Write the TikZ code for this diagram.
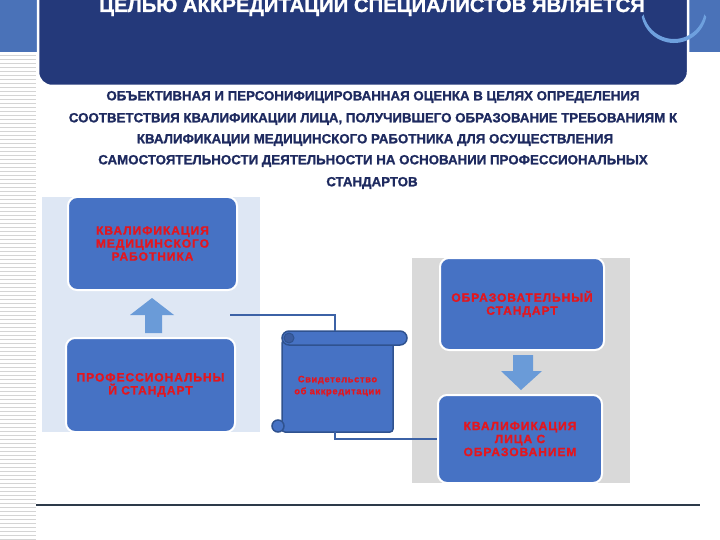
\documentclass[tikz,border=0pt]{standalone}
\usepackage{fontspec}
\usetikzlibrary{calc}
\setmainfont{Liberation Sans}
\newfontfamily\heavyfont{Liberation Sans}[BoldFeatures={FakeBold=1.2}]
\newfontfamily\boxfont{Liberation Sans}[LetterSpace=8, BoldFeatures={FakeBold=1.2}]
\newfontfamily\scrfont{Liberation Sans}[LetterSpace=7, BoldFeatures={FakeBold=0.8}]
\definecolor{hdrblue}{RGB}{74,114,184}
\definecolor{navy}{RGB}{36,57,122}
\definecolor{boxblue}{RGB}{70,114,196}
\definecolor{arrowblue}{RGB}{106,155,216}
\definecolor{arcblue}{RGB}{110,160,222}
\definecolor{panelblue}{RGB}{222,231,244}
\definecolor{panelgray}{RGB}{217,217,217}
\definecolor{redtxt}{RGB}{228,22,30}
\definecolor{linkblue}{RGB}{60,98,166}
\definecolor{scrollline}{RGB}{47,82,143}
\definecolor{scrolldark}{RGB}{58,92,160}
\definecolor{stripe}{RGB}{212,212,212}
\definecolor{bodytxt}{RGB}{30,42,95}
\definecolor{rulecol}{RGB}{45,58,74}
\begin{document}
\begin{tikzpicture}[x=1pt,y=-1pt,
  bluebox/.style={draw=white, line width=2, fill=boxblue, rounded corners=9, inner sep=0,
     text=redtxt, align=center, font=\boxfont\bfseries\fontsize{12}{13}\selectfont},
  bodyline/.style={text=bodytxt, font=\heavyfont\bfseries\fontsize{13.3}{14}\selectfont, inner sep=0},
  link/.style={draw=linkblue, line width=2.2},
  scrollshape/.style={fill=boxblue, draw=scrollline, line width=1.5},
  bigarrow/.style={fill=arrowblue}]
\useasboundingbox (0,0) rectangle (720,540);
\clip (0,0) rectangle (720,540);
% header
\fill[hdrblue] (0,0) rectangle (720,52);
\foreach \i in {0,...,121} \draw[stripe, line width=0.8] (0,55+4*\i) -- (36,55+4*\i);
\draw[white, line width=2.5, fill=navy, rounded corners=14] (38,-20) rectangle (688,86);
\fill[arcblue] (674,10) ++(12:33) arc[start angle=12, end angle=168, radius=33]
   -- ($(674,8)+(168:31)$) arc[start angle=168, end angle=12, radius=31] -- cycle;
\node[text=white, font=\heavyfont\bfseries\fontsize{20.3}{21}\selectfont, anchor=base] (title) at (372,12) {ЦЕЛЬЮ АККРЕДИТАЦИИ СПЕЦИАЛИСТОВ ЯВЛЯЕТСЯ};
% body text
\node[bodyline] (l1) at (373,97) {ОБЪЕКТИВНАЯ И ПЕРСОНИФИЦИРОВАННАЯ ОЦЕНКА В ЦЕЛЯХ ОПРЕДЕЛЕНИЯ};
\node[bodyline] (l2) at (373,119) {СООТВЕТСТВИЯ КВАЛИФИКАЦИИ ЛИЦА, ПОЛУЧИВШЕГО ОБРАЗОВАНИЕ ТРЕБОВАНИЯМ К};
\node[bodyline] (l3) at (375,140) {КВАЛИФИКАЦИИ МЕДИЦИНСКОГО РАБОТНИКА ДЛЯ ОСУЩЕСТВЛЕНИЯ};
\node[bodyline] (l4) at (373,161) {САМОСТОЯТЕЛЬНОСТИ ДЕЯТЕЛЬНОСТИ НА ОСНОВАНИИ ПРОФЕССИОНАЛЬНЫХ};
\node[bodyline] (l5) at (372,183) {СТАНДАРТОВ};
% panels
\fill[panelblue] (42,197) rectangle (260,432);
\fill[panelgray] (412,258) rectangle (630,483);
% boxes
\node[bluebox, minimum width=169, minimum height=93] (b1) at (152.5,243.5) {КВАЛИФИКАЦИЯ\\МЕДИЦИНСКОГО\\РАБОТНИКА};
\node[bluebox, minimum width=169, minimum height=94] (b2) at (150.5,385) {ПРОФЕССИОНАЛЬНЫ\\Й СТАНДАРТ};
\node[bluebox, minimum width=164, minimum height=92] (b3) at (522,304) {ОБРАЗОВАТЕЛЬНЫЙ\\СТАНДАРТ};
\node[bluebox, minimum width=164, minimum height=88] (b4) at (520,439) {КВАЛИФИКАЦИЯ\\ЛИЦА С\\ОБРАЗОВАНИЕМ};
% arrows
\fill[bigarrow] (152,298) -- (174,315) -- (162,315) -- (162,333) -- (145,333) -- (145,315) -- (130,315) -- cycle;
\fill[bigarrow] (513,355) -- (533,355) -- (533,371) -- (542,371) -- (521,390) -- (501,371) -- (513,371) -- cycle;
% scroll
\path[scrollshape, rounded corners=3] (282,340) rectangle (393,432);
\path[scrollshape] (278,426) circle[radius=6];
\path[scrollshape, rounded corners=7] (282,331) rectangle (407,345);
\path[fill=scrolldark, draw=scrollline, line width=1] (289,338) circle[radius=5];
\node[text=redtxt, align=center, font=\scrfont\bfseries\fontsize{9.3}{12}\selectfont, inner sep=0] (scroll) at (337.5,386) {Свидетельство\\об аккредитации};
\coordinate (scrolltop) at (335,331);
\coordinate (scrollbot) at (335,432);
\coordinate (linkstart) at (230,315);
% connectors
\draw[link] (linkstart) -| (scrolltop);
\draw[link] (scrollbot) |- (b4.west);
% bottom rule
\coordinate (ruleL) at (36,505);
\coordinate (ruleR) at (700,505);
\draw[rulecol, line width=1.2] (ruleL) -- (ruleR);
\end{tikzpicture}
\end{document}
